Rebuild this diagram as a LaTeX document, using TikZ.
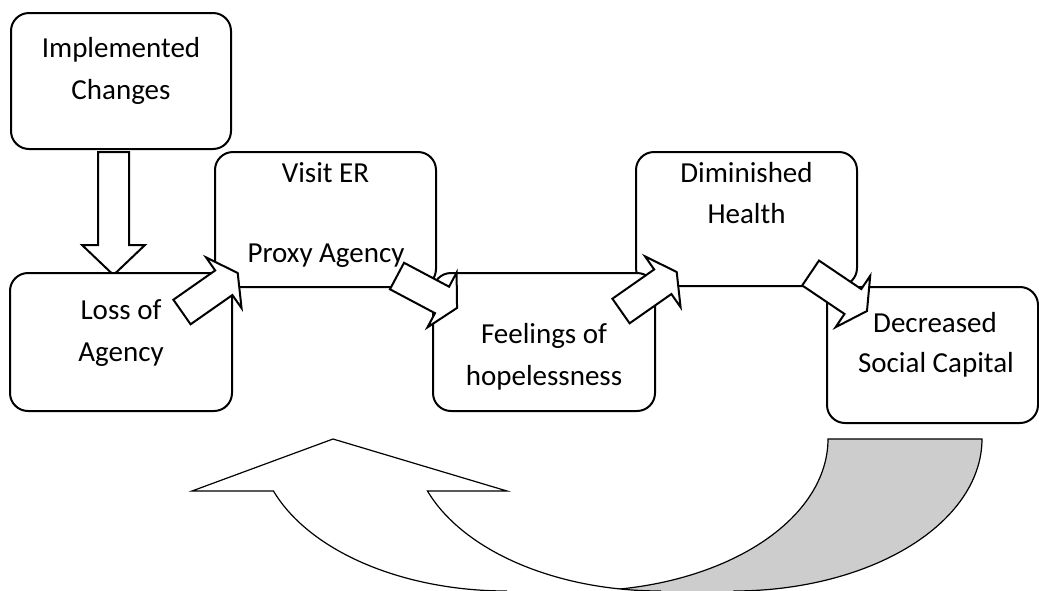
\documentclass[tikz,border=0pt]{standalone}
\usepackage{fontspec}
\setmainfont{Carlito}
\definecolor{backgray}{RGB}{205,205,205}
\begin{document}
\begin{tikzpicture}[x=0.5pt,y=-0.5pt,
  box/.style={draw, fill=white, line width=1pt, rounded corners=9pt, inner sep=0pt, outer sep=0pt},
  lbl/.style={anchor=base, inner sep=0pt, font=\fontsize{14.5}{20}\selectfont},
  blockarr/.style={draw, fill=white, line width=1pt, line join=miter},
  curvefront/.style={draw, fill=white, line width=0.6pt, line join=miter},
  curveback/.style={draw, fill=backgray, line width=0.6pt, line join=miter},
  blk/.pic={\draw[blockarr] (0,15) -- (51,15) -- (51,31) -- (68,0) -- (51,-31) -- (51,-15) -- (0,-15) -- cycle;}]
\clip (0,0) rectangle (1039,590);
% curved arrow: back band
\draw[curveback] (828,439) -- (982,439)
  -- plot[domain=0:90,samples=60] ({734+248*cos(\x)},{439+152*sin(\x)})
  -- (734,600) -- (580,600) -- (580,591)
  -- plot[domain=90:0,samples=60] ({580+248*cos(\x)},{439+152*sin(\x)}) -- cycle;
% curved arrow: front band
\draw[curvefront] (506.5,600) -- (506.5,591)
  -- plot[domain=90:20,samples=60] ({506.5-248*cos(\x)},{439+152*sin(\x)})
  -- (192,491) -- (333,439) -- (507,491)
  -- plot[domain=20:90,samples=60] ({660.5-248*cos(\x)},{439+152*sin(\x)})
  -- (660.5,600) -- cycle;
% boxes
\node[box, minimum width=110pt, minimum height=68pt] (impl) at (121,81) {};
\draw[blockarr] (98,152) -- (129,152) -- (129,245) -- (145,245) -- (113.5,275) -- (82,245) -- (98,245) -- cycle;
\node[box, minimum width=110.5pt, minimum height=67.5pt] (visit) at (325.5,219.5) {};
\node[box, minimum width=110.5pt, minimum height=67pt] (dimin) at (746.5,219) {};
\node[box, minimum width=111pt, minimum height=69pt] (loss) at (121,342) {};
\node[box, minimum width=111pt, minimum height=69pt] (feel) at (544,342) {};
\node[box, minimum width=105.5pt, minimum height=68pt] (decr) at (932.5,355) {};
% labels
\node[lbl] (implA) at (121,57) {Implemented};
\node[lbl] (implB) at (121,99) {Changes};
\node[lbl] (visitA) at (325.5,182) {Visit ER};
\node[lbl] (visitB) at (326,262) {Proxy Agency};
\node[lbl] (lossA) at (121,319) {Loss of};
\node[lbl] (lossB) at (121,361) {Agency};
\node[lbl] (feelA) at (544,343) {Feelings of};
\node[lbl] (feelB) at (544,385) {hopelessness};
\node[lbl] (dimA) at (746.5,182) {Diminished};
\node[lbl] (dimB) at (746.5,223) {Health};
\node[lbl] (decA) at (935,332) {Decreased};
\node[lbl] (decB) at (936,372) {Social Capital};
% small block arrows
\pic[rotate=35] at (182,312) {blk};
\pic[rotate=-28] at (397,276) {blk};
\pic[rotate=35] at (621,311) {blk};
\pic[rotate=-34] at (810.6,273) {blk};
\end{tikzpicture}
\end{document}
